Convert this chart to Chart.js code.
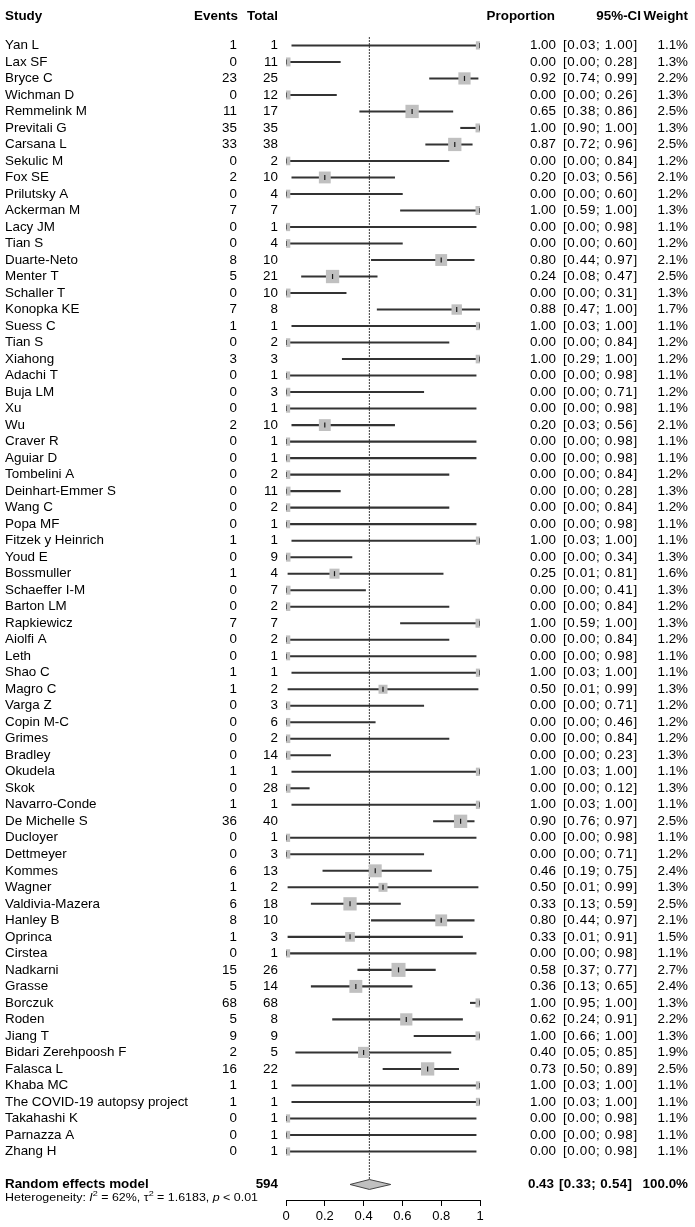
<!DOCTYPE html>
<html>
<head>
<meta charset="utf-8">
<script src="https://cdn.jsdelivr.net/npm/chart.js@4.4.0/dist/chart.umd.min.js"></script>
<style>
  html, body { margin: 0; padding: 0; background: #fff; }
  canvas { display: block; }
</style>
</head>
<body>
<canvas id="forestPlot" width="695" height="1227"></canvas>
<script>
// Study data
const studies = ['Yan L', 'Lax SF', 'Bryce C', 'Wichman D', 'Remmelink M', 'Previtali G', 'Carsana L',
  'Sekulic M', 'Fox SE', 'Prilutsky A', 'Ackerman M', 'Lacy JM', 'Tian S', 'Duarte-Neto', 'Menter T',
  'Schaller T', 'Konopka KE', 'Suess C', 'Tian S', 'Xiahong', 'Adachi T', 'Buja LM', 'Xu', 'Wu',
  'Craver R', 'Aguiar D', 'Tombelini A', 'Deinhart-Emmer S', 'Wang C', 'Popa MF', 'Fitzek y Heinrich',
  'Youd E', 'Bossmuller', 'Schaeffer I-M', 'Barton LM', 'Rapkiewicz', 'Aiolfi A', 'Leth', 'Shao C',
  'Magro C', 'Varga Z', 'Copin M-C', 'Grimes', 'Bradley', 'Okudela', 'Skok', 'Navarro-Conde',
  'De Michelle S', 'Ducloyer', 'Dettmeyer', 'Kommes', 'Wagner', 'Valdivia-Mazera', 'Hanley B',
  'Oprinca', 'Cirstea', 'Nadkarni', 'Grasse', 'Borczuk', 'Roden', 'Jiang T', 'Bidari Zerehpoosh F',
  'Falasca L', 'Khaba MC', 'The COVID-19 autopsy project', 'Takahashi K', 'Parnazza A', 'Zhang H'];

const events = [1, 0, 23, 0, 11, 35, 33, 0, 2, 0, 7, 0, 0, 8, 5, 0, 7, 1, 0, 3, 0, 0, 0, 2, 0, 0, 0, 0,
  0, 0, 1, 0, 1, 0, 0, 7, 0, 0, 1, 1, 0, 0, 0, 0, 1, 0, 1, 36, 0, 0, 6, 1, 6, 8, 1, 0, 15, 5, 68, 5, 9,
  2, 16, 1, 1, 0, 0, 0];

const totals = [1, 11, 25, 12, 17, 35, 38, 2, 10, 4, 7, 1, 4, 10, 21, 10, 8, 1, 2, 3, 1, 3, 1, 10, 1, 1,
  2, 11, 2, 1, 1, 9, 4, 7, 2, 7, 2, 1, 1, 2, 3, 6, 2, 14, 1, 28, 1, 40, 1, 3, 13, 2, 18, 10, 3, 1, 26,
  14, 68, 8, 9, 5, 22, 1, 1, 1, 1, 1];

const proportion = [1.00, 0.00, 0.92, 0.00, 0.65, 1.00, 0.87, 0.00, 0.20, 0.00, 1.00, 0.00, 0.00, 0.80,
  0.24, 0.00, 0.88, 1.00, 0.00, 1.00, 0.00, 0.00, 0.00, 0.20, 0.00, 0.00, 0.00, 0.00, 0.00, 0.00, 1.00,
  0.00, 0.25, 0.00, 0.00, 1.00, 0.00, 0.00, 1.00, 0.50, 0.00, 0.00, 0.00, 0.00, 1.00, 0.00, 1.00, 0.90,
  0.00, 0.00, 0.46, 0.50, 0.33, 0.80, 0.33, 0.00, 0.58, 0.36, 1.00, 0.62, 1.00, 0.40, 0.73, 1.00, 1.00,
  0.00, 0.00, 0.00];

const ciLower = [0.03, 0.00, 0.74, 0.00, 0.38, 0.90, 0.72, 0.00, 0.03, 0.00, 0.59, 0.00, 0.00, 0.44,
  0.08, 0.00, 0.47, 0.03, 0.00, 0.29, 0.00, 0.00, 0.00, 0.03, 0.00, 0.00, 0.00, 0.00, 0.00, 0.00, 0.03,
  0.00, 0.01, 0.00, 0.00, 0.59, 0.00, 0.00, 0.03, 0.01, 0.00, 0.00, 0.00, 0.00, 0.03, 0.00, 0.03, 0.76,
  0.00, 0.00, 0.19, 0.01, 0.13, 0.44, 0.01, 0.00, 0.37, 0.13, 0.95, 0.24, 0.66, 0.05, 0.50, 0.03, 0.03,
  0.00, 0.00, 0.00];

const ciUpper = [1.00, 0.28, 0.99, 0.26, 0.86, 1.00, 0.96, 0.84, 0.56, 0.60, 1.00, 0.98, 0.60, 0.97,
  0.47, 0.31, 1.00, 1.00, 0.84, 1.00, 0.98, 0.71, 0.98, 0.56, 0.98, 0.98, 0.84, 0.28, 0.84, 0.98, 1.00,
  0.34, 0.81, 0.41, 0.84, 1.00, 0.84, 0.98, 1.00, 0.99, 0.71, 0.46, 0.84, 0.23, 1.00, 0.12, 1.00, 0.97,
  0.98, 0.71, 0.75, 0.99, 0.59, 0.97, 0.91, 0.98, 0.77, 0.65, 1.00, 0.91, 1.00, 0.85, 0.89, 1.00, 1.00,
  0.98, 0.98, 0.98];

const weights = [1.1, 1.3, 2.2, 1.3, 2.5, 1.3, 2.5, 1.2, 2.1, 1.2, 1.3, 1.1, 1.2, 2.1, 2.5, 1.3, 1.7, 1.1,
  1.2, 1.2, 1.1, 1.2, 1.1, 2.1, 1.1, 1.1, 1.2, 1.3, 1.2, 1.1, 1.1, 1.3, 1.6, 1.3, 1.2, 1.3, 1.2, 1.1, 1.1,
  1.3, 1.2, 1.2, 1.2, 1.3, 1.1, 1.3, 1.1, 2.5, 1.1, 1.2, 2.4, 1.3, 2.5, 2.1, 1.5, 1.1, 2.7, 2.4, 1.3, 2.2,
  1.3, 1.9, 2.5, 1.1, 1.1, 1.1, 1.1, 1.1];

// Random effects model
const pooledEstimate = 0.43;
const pooledCI = [0.33, 0.54];
const pooledTotal = 594;

const xTickValues = [0, 0.2, 0.4, 0.6, 0.8, 1];

const fontFam = '"Liberation Sans", Arial, Helvetica, sans-serif';
const rows = studies.map((s, i) => i);
const pooledRow = 69;

// draws the table columns next to the plot
const tableText = {
  id: 'tableText',
  afterDraw(chart) {
    const ctx = chart.ctx;
    const yScale = chart.scales.y;
    ctx.save();
    ctx.fillStyle = '#000';
    ctx.textBaseline = 'middle';

    function put(txt, x, y, align, spacing) {
      ctx.textAlign = align;
      ctx.letterSpacing = spacing || '0px';
      ctx.fillText(txt, x, y);
    }

    // header
    const hy = yScale.getPixelForValue(-1.75);
    ctx.font = 'bold 13.4px ' + fontFam;
    put('Study', 5, hy, 'left');
    put('Events', 238, hy, 'right');
    put('Total', 278, hy, 'right');
    put('Proportion', 555, hy, 'right');
    put('95%-CI', 641, hy, 'right');
    put('Weight', 688, hy, 'right');

    // study rows
    ctx.font = '13.4px ' + fontFam;
    rows.forEach(i => {
      const y = yScale.getPixelForValue(i);
      put(studies[i], 5, y, 'left');
      put(String(events[i]), 237, y, 'right');
      put(String(totals[i]), 278, y, 'right');
      put(proportion[i].toFixed(2), 556, y, 'right');
      put('[' + ciLower[i].toFixed(2) + '; ' + ciUpper[i].toFixed(2) + ']', 563, y, 'left', '0.65px');
      put(weights[i].toFixed(1) + '%', 688, y, 'right');
    });

    // pooled row
    const py = yScale.getPixelForValue(pooledRow);
    ctx.font = 'bold 13.4px ' + fontFam;
    put('Random effects model', 5, py, 'left');
    put(String(pooledTotal), 278, py, 'right');
    put(pooledEstimate.toFixed(2), 554, py, 'right');
    put('[' + pooledCI[0].toFixed(2) + '; ' + pooledCI[1].toFixed(2) + ']', 559, py, 'left', '0.35px');
    put('100.0%', 688, py, 'right');
    ctx.letterSpacing = '0px';

    // heterogeneity line with italics and superscripts
    const hety = yScale.getPixelForValue(pooledRow + 0.8);
    const regular = '11px ' + fontFam;
    const italic = 'italic 11px ' + fontFam;
    const sup = '8px ' + fontFam;
    const parts = [
      ['Heterogeneity: ', regular, 0], ['I', italic, 0], ['2', sup, -4], [' = 62%, \u03c4', regular, 0],
      ['2', sup, -4], [' = 1.6183, ', regular, 0], ['p', italic, 0], [' < 0.01', regular, 0]
    ];
    ctx.translate(5, hety);
    ctx.scale(1.13, 1);
    let x = 0;
    ctx.textAlign = 'left';
    parts.forEach(p => {
      ctx.font = p[1];
      ctx.fillText(p[0], x, p[2]);
      x += ctx.measureText(p[0]).width;
    });
    ctx.restore();
  }
};

const ctx = document.getElementById('forestPlot').getContext('2d');
const forestChart = new Chart(ctx, {
  type: 'scatter',
  data: {
    datasets: [
      {
        // point estimate tick
        type: 'scatter',
        data: rows.map(i => ({ x: proportion[i], y: i })),
        pointStyle: 'line',
        rotation: 90,
        pointRadius: 2.5,
        borderColor: '#1a1a1a',
        borderWidth: 1.2,
        order: 0
      },
      {
        // weighted squares
        type: 'scatter',
        data: rows.map(i => ({ x: proportion[i], y: i })),
        pointStyle: 'rect',
        pointRadius: rows.map(i => (4.3 + 3.6 * weights[i]) / 2 / Math.SQRT1_2),
        backgroundColor: '#c0c0c0',
        borderWidth: 0,
        order: 1
      },
      {
        // confidence intervals
        type: 'bar',
        indexAxis: 'y',
        data: rows.map(i => ({ x: [ciLower[i], ciUpper[i]], y: i })),
        backgroundColor: '#333333',
        borderWidth: 0,
        barThickness: 1.4,
        order: 2
      },
      {
        // pooled diamond
        type: 'scatter',
        showLine: true,
        fill: 'shape',
        data: [
          { x: pooledCI[0], y: pooledRow },
          { x: pooledEstimate, y: pooledRow - 0.3 },
          { x: pooledCI[1], y: pooledRow },
          { x: pooledEstimate, y: pooledRow + 0.3 },
          { x: pooledCI[0], y: pooledRow }
        ],
        backgroundColor: '#c0c0c0',
        borderColor: '#444',
        borderWidth: 1,
        pointRadius: 0,
        order: 1
      },
      {
        // pooled estimate reference line
        type: 'scatter',
        showLine: true,
        data: [{ x: pooledEstimate, y: -0.5 }, { x: pooledEstimate, y: pooledRow - 0.3 }],
        borderColor: '#222',
        borderWidth: 1.2,
        borderDash: [1.5, 1.5],
        pointRadius: 0,
        order: 3
      }
    ]
  },
  options: {
    responsive: false,
    animation: false,
    events: [],
    layout: { padding: { left: 286, right: 215, top: 0, bottom: 0 } },
    plugins: { legend: { display: false }, tooltip: { enabled: false } },
    scales: {
      x: {
        type: 'linear',
        min: 0,
        max: 1,
        offset: false,
        afterBuildTicks: scale => { scale.ticks = xTickValues.map(v => ({ value: v })); },
        afterFit: scale => { scale.height = 27; },
        border: { display: true, color: '#000', width: 1 },
        grid: { offset: false, drawOnChartArea: false, drawTicks: true, tickLength: 6, color: '#000' },
        ticks: {
          color: '#000', padding: 3, maxRotation: 0,
          font: { family: fontFam, size: 13 },
          callback: v => String(Number(v.toFixed(1)))
        }
      },
      y: {
        type: 'linear',
        reverse: true,
        offset: false,
        grid: { offset: false },
        min: -2.15,
        max: 69.94,
        display: false
      }
    }
  },
  plugins: [tableText]
});
</script>
</body>
</html>
